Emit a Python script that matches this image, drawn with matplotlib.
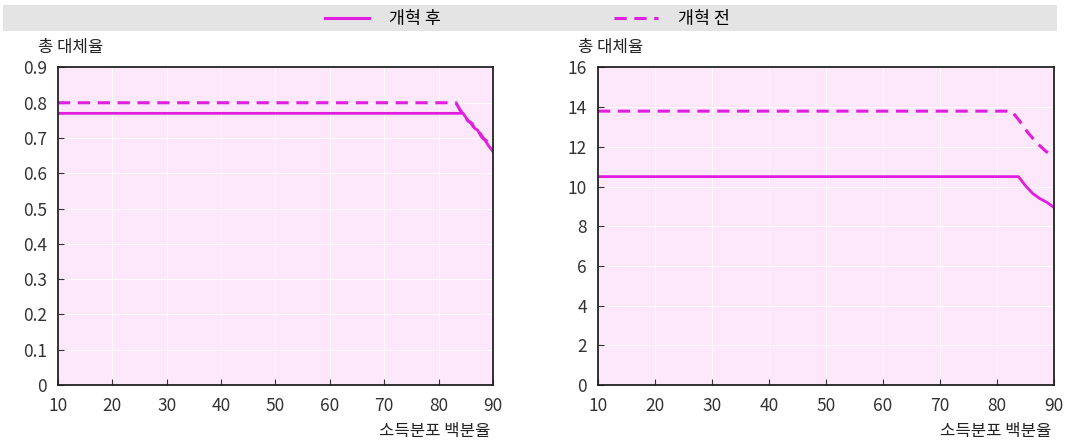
import numpy as np
import matplotlib.pyplot as plt
from matplotlib.patches import Rectangle
from matplotlib.lines import Line2D

plt.rcParams['font.family'] = ['Noto Sans CJK KR', 'DejaVu Sans']

# 왼쪽 그림: 총 대체율 (소득분포 백분율별)
x_left_after = [10, 84.5, 85.3, 85.8, 86.6, 87.2, 87.9, 88.5, 89.2, 90]
y_left_after = [0.77, 0.77, 0.752, 0.745, 0.728, 0.722, 0.703, 0.695, 0.678, 0.662]
x_left_before = [10, 83.2, 84.0, 84.6, 85.4, 86.1, 86.8, 87.5, 88.3, 89.0, 89.6, 90]
y_left_before = [0.80, 0.80, 0.778, 0.770, 0.748, 0.742, 0.722, 0.716, 0.698, 0.690, 0.672, 0.665]

# 오른쪽 그림
x_right_after = [10, 83.8, 85.0, 86.3, 87.5, 88.8, 90]
y_right_after = [10.5, 10.5, 10.05, 9.65, 9.4, 9.2, 8.95]
x_right_before = [10, 82.6, 84.0, 85.5, 87.0, 88.5, 90]
y_right_before = [13.8, 13.8, 13.3, 12.7, 12.2, 11.8, 11.5]

line_color = '#e01ee0'
bg_color = '#fde8fb'

fig = plt.figure(figsize=(10.7, 4.41), dpi=100)

# 범례 배경
fig.patches.append(Rectangle((0.003, 0.93), 0.985, 0.058, transform=fig.transFigure,
                             facecolor='#e4e4e4', edgecolor='none', zorder=0))
leg_handles = [Line2D([], [], color=line_color, lw=2.2, ls='-'),
               Line2D([], [], color=line_color, lw=2.2, ls=(0, (4, 2.5)))]
fig.legend(leg_handles, ['개혁 후', '개혁 전'], loc='center', bbox_to_anchor=(0.493, 0.957),
           ncol=2, frameon=False, fontsize=12.5, handlelength=2.5, columnspacing=10.0,
           handletextpad=1.15)

ax1 = fig.add_axes([0.0542, 0.127, 0.4065, 0.72])
ax2 = fig.add_axes([0.5589, 0.127, 0.426, 0.72])

ax1.plot(x_left_after, y_left_after, color=line_color, lw=2)
ax1.plot(x_left_before, y_left_before, color=line_color, lw=2.2, ls=(0, (4, 2.5)))
ax2.plot(x_right_after, y_right_after, color=line_color, lw=2)
ax2.plot(x_right_before, y_right_before, color=line_color, lw=2.2, ls=(0, (4, 2.5)))

ax1.set_ylim(0, 0.9)
ax1.set_yticks(np.arange(0, 0.91, 0.1))
ax1.set_yticklabels(['0'] + ['%.1f' % v for v in np.arange(0.1, 0.91, 0.1)])
ax2.set_ylim(0, 16)
ax2.set_yticks(range(0, 17, 2))

for ax in (ax1, ax2):
    ax.set_xlim(10, 90)
    ax.set_xticks(range(10, 91, 10))
    ax.set_facecolor(bg_color)
    ax.grid(True, color='white', lw=0.8, alpha=0.8)
    ax.set_axisbelow(True)
    for s in ax.spines.values():
        s.set_linewidth(1.3)
        s.set_color('#222222')
    ax.tick_params(direction='in', length=4, width=0.8, labelsize=12.5, colors='#333333',
                   labelcolor='#333333')
    ax.tick_params(axis='x', pad=9)
    ax.tick_params(axis='y', pad=8)
    ax.text(-0.045, 1.035, '총 대체율', transform=ax.transAxes, fontsize=12,
            ha='left', va='bottom', color='#222222')
    ax.text(0.995, -0.12, '소득분포 백분율', transform=ax.transAxes, fontsize=12,
            ha='right', va='top', color='#222222')

fig.savefig('out.png', dpi=100)
